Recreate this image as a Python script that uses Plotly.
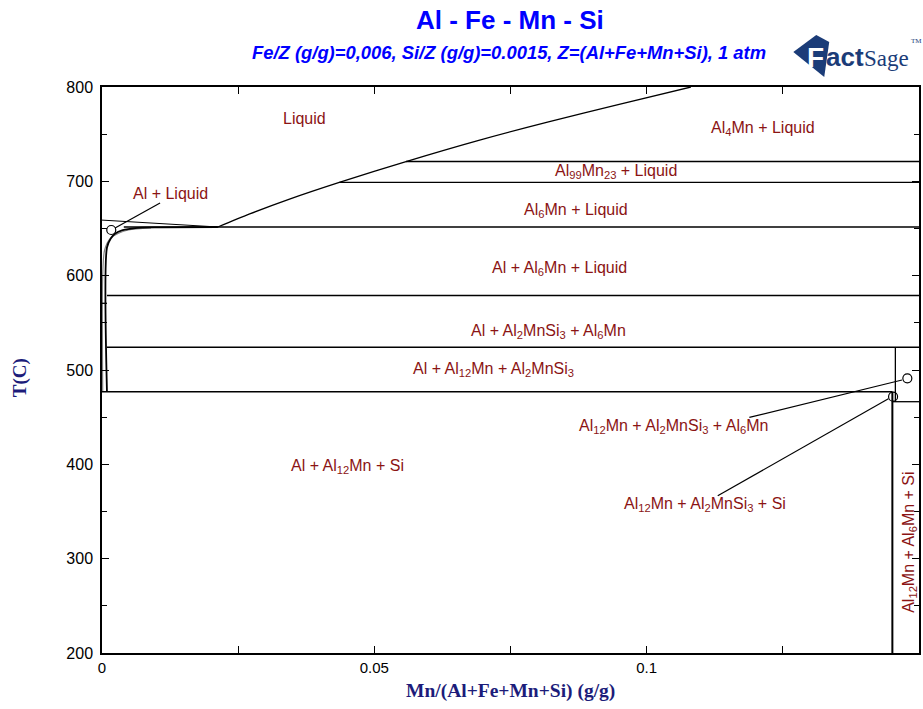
import plotly.graph_objects as go

# ---- axis limits -----------------------------------------------------------
X_RANGE = [0.0, 0.15]
T_RANGE = [200, 800]
x_tick_vals = [0.0, 0.025, 0.05, 0.075, 0.1, 0.125]
x_tick_text = ["0", "", "0.05", "", "0.1", ""]

# ---- phase boundaries (x = Mn mass fraction, T in C) -----------------------
# liquidus of the Mn-rich phases (Al6Mn / Al99Mn23 / Al4Mn)
liq_mn_x = [0.02127, 0.02712, 0.03443, 0.04357, 0.05582, 0.06917, 0.08197, 0.09476, 0.10811]
liq_mn_T = [651.6, 665.5, 681.2, 698.9, 721.0, 743.5, 763.1, 781.2, 800.0]

# liquidus of Al
liq_al_x = [0.0, 0.02127]
liq_al_T = [658.9, 651.6]

# Al + Liquid / Al + Al6Mn + Liquid boundary
sol_x = [0.00091, 0.00091, 0.00161, 0.00243, 0.0038, 0.0061, 0.0107, 0.02127]
sol_T = [476.9, 629.9, 639.4, 644.7, 648.2, 650.5, 651.2, 651.6]

# Al solidus
sol2_x = [0.00013, 0.00013, 0.00048, 0.00152, 0.00304, 0.00486, 0.0090]
sol2_T = [476.9, 600.0, 627.2, 639.6, 644.9, 648.4, 650.6]

# invariant (horizontal) lines
inv_T = [721.0, 698.9, 651.6, 579.0, 524.1, 476.9, 466.4, 570.7]
inv_x0 = [0.05582, 0.04357, 0.0040, 0.00091, 0.00091, 0.0, 0.14511, 0.0]
inv_x1 = [0.15, 0.15, 0.15, 0.15, 0.15, 0.14511, 0.15, 0.00091]
inv_w = [1.3, 1.3, 1.3, 1.3, 1.3, 1.6, 1.3, 1.3]

# vertical boundaries on the Mn-rich side
vert_x = [0.14566, 0.14511]
vert_T0 = [466.4, 200.0]
vert_T1 = [524.1, 476.9]
vert_w = [1.3, 2.0]

# marked points and their leader lines
circ_x = [0.0017, 0.14786, 0.14524]
circ_T = [648.4, 491.2, 471.7]
lead_x0 = [0.01066, 0.11885, 0.11305]
lead_T0 = [677.0, 449.8, 366.7]
lead_x1 = [0.0024, 0.14688, 0.14438]
lead_T1 = [650.6, 489.4, 469.5]

# phase field labels
lab_text = [
    "Liquid",
    "Al<sub>4</sub>Mn + Liquid",
    "Al<sub>99</sub>Mn<sub>23</sub> + Liquid",
    "Al<sub>6</sub>Mn + Liquid",
    "Al + Liquid",
    "Al + Al<sub>6</sub>Mn + Liquid",
    "Al + Al<sub>2</sub>MnSi<sub>3</sub> + Al<sub>6</sub>Mn",
    "Al + Al<sub>12</sub>Mn + Al<sub>2</sub>MnSi<sub>3</sub>",
    "Al<sub>12</sub>Mn + Al<sub>2</sub>MnSi<sub>3</sub> + Al<sub>6</sub>Mn",
    "Al + Al<sub>12</sub>Mn + Si",
    "Al<sub>12</sub>Mn + Al<sub>2</sub>MnSi<sub>3</sub> + Si",
    "Al<sub>12</sub>Mn + Al<sub>6</sub>Mn + Si",
]
lab_x = [0.0372, 0.1214, 0.0944, 0.0871, 0.0125, 0.0840, 0.0820, 0.0719, 0.1050, 0.0450, 0.1107, 0.1482]
lab_T = [766.1, 756.5, 709.9, 669.6, 687.6, 607.1, 541.3, 501.0, 439.6, 398.2, 356.9, 317.0]
lab_angle = [0, 0, 0, 0, 0, 0, 0, 0, 0, 0, 0, -90]

LABEL_RED = "#8b1414"
TITLE_BLUE = "#0000ff"
AXIS_NAVY = "#1c1c7a"
LOGO_NAVY = "#1b3c78"

W, H = 923, 709
L, R, T, B = 102, 2, 87, 56
PW, PH = W - L - R, H - T - B


def px(xp):
    return (xp - L) / PW


def py(yp):
    return (H - B - yp) / PH


fig = go.Figure()


def add_line(xs, ts, width=1.3, color="black", shape="linear"):
    fig.add_trace(go.Scatter(x=xs, y=ts, mode="lines",
                             line=dict(color=color, width=width, shape=shape,
                                       smoothing=0.8),
                             hoverinfo="skip", showlegend=False))


add_line(liq_mn_x, liq_mn_T, 1.3, shape="spline")
add_line(liq_al_x, liq_al_T, 1.0)
add_line(sol2_x, sol2_T, 1.2, "#808080", shape="spline")
add_line(sol_x, sol_T, 1.8, shape="spline")

for t, a, b, w in zip(inv_T, inv_x0, inv_x1, inv_w):
    add_line([a, b], [t, t], w)

for xv, t0, t1, w in zip(vert_x, vert_T0, vert_T1, vert_w):
    add_line([xv, xv], [t0, t1], w)

for a, t0, b, t1 in zip(lead_x0, lead_T0, lead_x1, lead_T1):
    add_line([a, b], [t0, t1], 1.2)

fig.add_trace(go.Scatter(x=circ_x, y=circ_T, mode="markers",
                         marker=dict(symbol="circle-open", size=9,
                                     color="black", line=dict(width=1.2)),
                         hoverinfo="skip", showlegend=False))

for txt, xv, tv, ang in zip(lab_text, lab_x, lab_T, lab_angle):
    fig.add_annotation(x=xv, y=tv, xref="x", yref="y", text=txt,
                       showarrow=False, textangle=ang,
                       xanchor="center", yanchor="middle",
                       font=dict(family="Liberation Sans, Arial", size=16,
                                 color=LABEL_RED))

# titles
fig.add_annotation(x=px(511), y=py(20), xref="paper", yref="paper",
                   text="<b>Al - Fe - Mn - Si</b>", showarrow=False,
                   xanchor="center", yanchor="middle",
                   font=dict(family="Liberation Sans, Arial", size=26,
                             color=TITLE_BLUE))
fig.add_annotation(x=px(510), y=py(52), xref="paper", yref="paper",
                   text="<b><i>Fe/Z (g/g)=0,006, Si/Z (g/g)=0.0015, "
                        "Z=(Al+Fe+Mn+Si), 1 atm</i></b>",
                   showarrow=False, xanchor="center", yanchor="middle",
                   font=dict(family="Liberation Sans, Arial", size=18.4,
                             color=TITLE_BLUE))

# axis titles
fig.add_annotation(x=px(511), y=py(691), xref="paper", yref="paper",
                   text="<b>Mn/(Al+Fe+Mn+Si) (g/g)</b>", showarrow=False,
                   xanchor="center", yanchor="middle",
                   font=dict(family="Liberation Serif, Times New Roman",
                             size=19.5, color=AXIS_NAVY))
fig.add_annotation(x=px(20), y=py(378), xref="paper", yref="paper",
                   text="<b>T(C)</b>", showarrow=False, textangle=-90,
                   xanchor="center", yanchor="middle",
                   font=dict(family="Liberation Serif, Times New Roman",
                             size=19, color=AXIS_NAVY))

# FactSage logo
diamond = [(795, 52), (818, 35), (831, 42), (826, 77)]
path = "M " + " L ".join(f"{px(a)},{py(b)}" for a, b in diamond) + " Z"
fig.add_shape(type="path", path=path, xref="paper", yref="paper",
              fillcolor=LOGO_NAVY, line=dict(width=0), layer="above")
fig.add_annotation(x=px(817), y=py(57), xref="paper", yref="paper",
                   text="<b>F</b>", showarrow=False, xanchor="center",
                   yanchor="middle",
                   font=dict(family="Liberation Sans, Arial", size=28,
                             color="white"))
fig.add_annotation(x=px(826), y=py(57), xref="paper", yref="paper",
                   text="<b>act</b>", showarrow=False, xanchor="left",
                   yanchor="middle",
                   font=dict(family="Liberation Sans, Arial", size=26,
                             color=LOGO_NAVY))
fig.add_annotation(x=px(864), y=py(58), xref="paper", yref="paper",
                   text="Sage", showarrow=False, xanchor="left",
                   yanchor="middle",
                   font=dict(family="Liberation Sans Narrow, Arial Narrow",
                             size=23, color=LOGO_NAVY))
fig.add_annotation(x=px(911), y=py(41), xref="paper", yref="paper",
                   text="TM", showarrow=False, xanchor="left",
                   yanchor="middle",
                   font=dict(family="Liberation Sans Narrow, Arial Narrow",
                             size=7, color=LOGO_NAVY))

axis_common = dict(showline=True, linecolor="black", linewidth=1.5,
                   mirror="allticks", ticks="inside", ticklen=7,
                   tickcolor="black", tickwidth=1.2, showgrid=False,
                   zeroline=False)

fig.update_xaxes(range=X_RANGE, tickmode="array", tickvals=x_tick_vals,
                 ticktext=x_tick_text,
                 tickfont=dict(family="Liberation Sans, Arial", size=15,
                               color="black"),
                 **axis_common)
fig.update_yaxes(range=T_RANGE, dtick=100, tick0=200,
                 minor=dict(dtick=50, ticks="inside", ticklen=5,
                            tickcolor="black", tickwidth=1.2),
                 ticklabelstandoff=4,
                 tickfont=dict(family="Liberation Sans, Arial", size=16,
                               color="black"),
                 **axis_common)

fig.update_layout(width=W, height=H,
                  margin=dict(l=L, r=R, t=T, b=B),
                  plot_bgcolor="white", paper_bgcolor="white")

fig.write_html("out.html")
